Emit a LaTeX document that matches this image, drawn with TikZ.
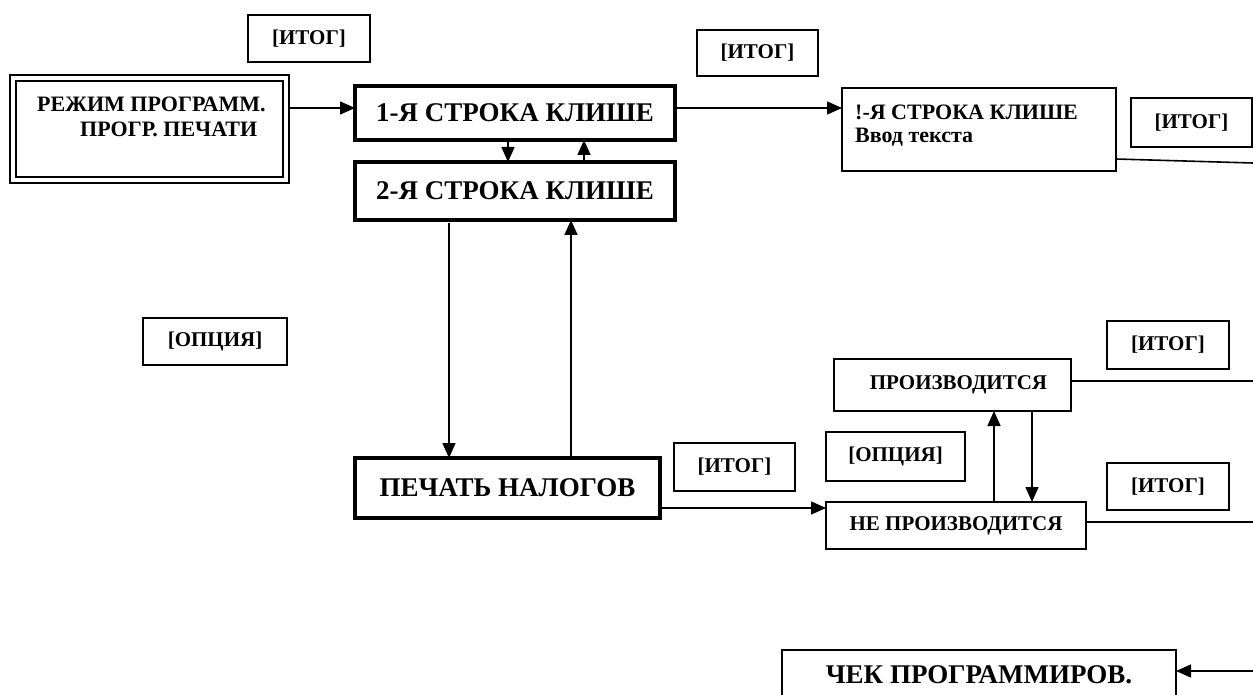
\documentclass[tikz,border=0pt]{standalone}
\usepackage{fontspec}
\setmainfont{Liberation Serif}
\usetikzlibrary{arrows.meta}
\begin{document}
\begin{tikzpicture}[x=1pt,y=-1pt,
  box/.style={draw, line width=1.6pt, inner sep=0pt, outer sep=0pt, align=center,
    font=\bfseries\fontsize{21}{23}\selectfont},
  bigbox/.style={box, line width=3.5pt, font=\bfseries\fontsize{27}{30}\selectfont},
  lbl/.style={inner sep=0pt, anchor=base west, font=\bfseries\fontsize{22}{24}\selectfont},
  ln/.style={line width=1.6pt},
  arr/.style={ln, -{Triangle[length=15pt,width=13pt]}},
]
\useasboundingbox (0,0) rectangle (1253,695);

% boxes
\node[box, minimum width=122pt, minimum height=47pt] (itog1) at (309,38.5) {[ИТОГ]};
\node[draw, line width=2.5pt, inner sep=0pt, outer sep=0pt, minimum width=279pt, minimum height=108pt] (rez) at (149.5,129) {};
\draw[line width=1.6pt] ([shift={(6,6)}]rez.north west) rectangle ([shift={(-6,-6)}]rez.south east);
\node[lbl] (rezA) at (37,112) {РЕЖИМ ПРОГРАММ.};
\node[lbl] (rezB) at (80,137) {ПРОГР. ПЕЧАТИ};

\node[bigbox, minimum width=320pt, minimum height=54pt] (p1) at (515,113) {1-Я СТРОКА КЛИШЕ};
\node[bigbox, minimum width=320pt, minimum height=58pt] (p2) at (515,191) {2-Я СТРОКА КЛИШЕ};
\node[bigbox, minimum width=305pt, minimum height=60pt] (pech) at (507.5,488) {ПЕЧАТЬ НАЛОГОВ};

\node[box, minimum width=121pt, minimum height=46pt] (itog2) at (757.5,53) {[ИТОГ]};
\node[box, minimum width=274pt, minimum height=83pt] (vvod) at (979,129.5) {};
\node[lbl] (vvodA) at (855,120) {!-Я СТРОКА КЛИШЕ};
\node[lbl] (vvodB) at (855,143) {Ввод текста};
\node[box, minimum width=121pt, minimum height=49pt] (itog3) at (1191.5,122.5) {[ИТОГ]};

\node[box, minimum width=144pt, minimum height=47pt] (opt1) at (215,341.5) {[ОПЦИЯ]};

\node[box, minimum width=237pt, minimum height=52pt] (proiz) at (952.5,385) {\hspace*{12pt}ПРОИЗВОДИТСЯ};
\node[box, minimum width=260pt, minimum height=47pt] (neproiz) at (956,525.5) {НЕ ПРОИЗВОДИТСЯ};
\node[box, minimum width=139pt, minimum height=49pt] (opt2) at (895.5,456.5) {[ОПЦИЯ]};
\node[box, minimum width=122pt, minimum height=48pt] (itog4) at (1168,345) {[ИТОГ]};
\node[box, minimum width=122pt, minimum height=47pt] (itog5) at (1168,486.5) {[ИТОГ]};
\node[box, minimum width=121pt, minimum height=48pt] (itog6) at (734.5,467) {[ИТОГ]};

\node[box, minimum width=394pt, minimum height=50pt, font=\bfseries\fontsize{27}{30}\selectfont] (chek) at (979,675) {ЧЕК ПРОГРАММИРОВ.};

% helper coordinates
\coordinate (yA) at (0,108);
\coordinate (xA) at (508,0);
\coordinate (xB) at (584,0);
\coordinate (xC) at (449,0);
\coordinate (xD) at (571,0);
\coordinate (yB) at (0,508);
\coordinate (xE) at (994,0);
\coordinate (xF) at (1032,0);
\coordinate (yC) at (0,159);
\coordinate (e1) at (1253,163);
\coordinate (e2) at (1253,381);
\coordinate (e3) at (1253,522);
\coordinate (e4) at (1253,671);

% connectors
\draw[arr] (rez.east |- yA) -- (p1.west |- yA);
\draw[arr] (p1.south -| xA) -- (p2.north -| xA);
\draw[arr] (p2.north -| xB) -- (p1.south -| xB);
\draw[arr] ([yshift=-3pt]p2.south -| xC) -- (pech.north -| xC);
\draw[arr] (pech.north -| xD) -- (p2.south -| xD);
\draw[arr] (p1.east |- yA) -- (vvod.west |- yA);
\draw[ln] (vvod.east |- yC) -- (e1);
\draw[arr] (pech.east |- yB) -- (neproiz.west |- yB);
\draw[arr] (neproiz.north -| xE) -- (proiz.south -| xE);
\draw[arr] (proiz.south -| xF) -- (neproiz.north -| xF);
\draw[ln] (proiz.east |- e2) -- (e2);
\draw[ln] (neproiz.east |- e3) -- (e3);
\draw[arr] (e4) -- (chek.east |- e4);
\end{tikzpicture}
\end{document}
